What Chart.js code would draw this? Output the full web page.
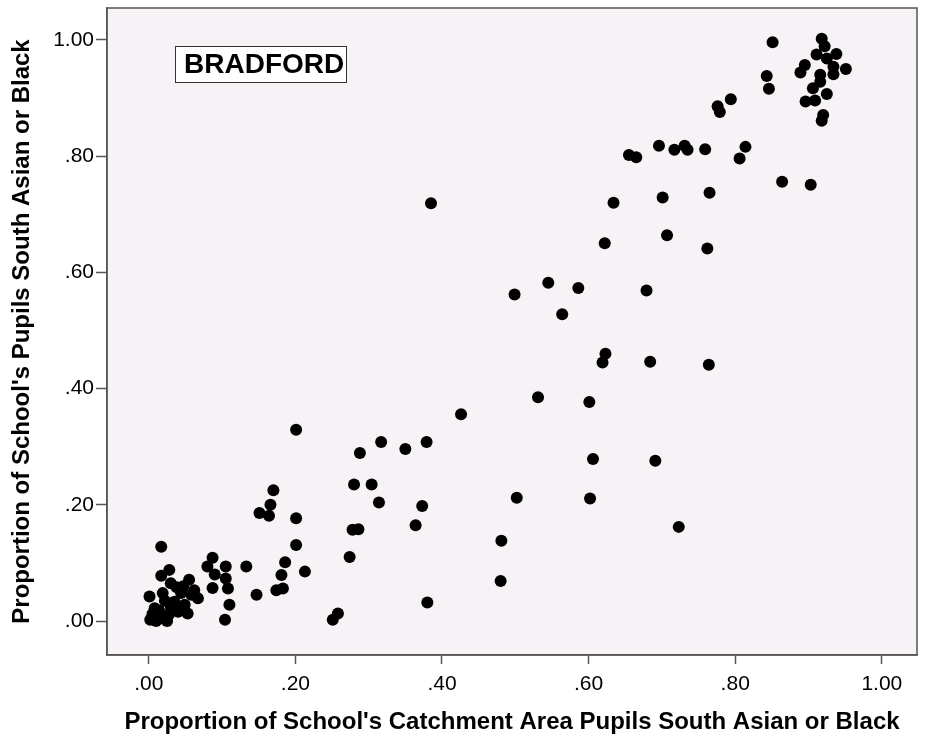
<!DOCTYPE html>
<html>
<head>
<meta charset="utf-8">
<script src="https://cdn.jsdelivr.net/npm/chart.js@4"></script>
<style>
  html, body { margin: 0; padding: 0; background: #fff; }
  #wrap { width: 927px; height: 742px; }
</style>
</head>
<body>
<div id="wrap"><canvas id="bradfordChart" width="927" height="742"></canvas></div>
<script>
// Proportion of catchment-area pupils South Asian or Black (x)
const catchmentShare = [
  0.017, 0.087, 0.080, 0.105, 0.090, 0.105, 0.087, 0.108, 0.110, 0.104,
  0.028, 0.017, 0.055, 0.030, 0.001, 0.019, 0.044, 0.067, 0.062, 0.049,
  0.053, 0.035, 0.040, 0.002, 0.010, 0.020, 0.028, 0.005, 0.025, 0.014,
  0.045, 0.058, 0.038, 0.012, 0.030, 0.022, 0.008, 0.047,
  0.133, 0.147, 0.174, 0.183, 0.181, 0.186, 0.201, 0.213, 0.201, 0.170,
  0.166, 0.151, 0.164, 0.201, 0.251, 0.258, 0.288, 0.317, 0.350, 0.379,
  0.426, 0.280, 0.304, 0.314, 0.373, 0.278, 0.286, 0.364, 0.274, 0.380,
  0.481, 0.480, 0.385,
  0.499, 0.545, 0.586, 0.564, 0.679, 0.623, 0.619, 0.684, 0.764, 0.531,
  0.601, 0.606, 0.691, 0.502, 0.602, 0.723, 0.655, 0.665, 0.696, 0.717,
  0.731, 0.735, 0.759, 0.814, 0.806, 0.634, 0.701, 0.765, 0.622, 0.707,
  0.762,
  0.776, 0.779, 0.794, 0.843, 0.846, 0.864, 0.903, 0.851, 0.918, 0.922,
  0.911, 0.938, 0.925, 0.934, 0.934, 0.951, 0.895, 0.889, 0.916, 0.916,
  0.906, 0.925, 0.896, 0.909, 0.920, 0.918
];

// Proportion of school's pupils South Asian or Black (y)
const schoolShare = [
  0.128, 0.109, 0.094, 0.094, 0.080, 0.073, 0.057, 0.056, 0.028, 0.002,
  0.088, 0.078, 0.071, 0.065, 0.042, 0.048, 0.048, 0.039, 0.053, 0.028,
  0.013, 0.033, 0.016, 0.002, 0.000, 0.004, 0.012, 0.012, 0.000, 0.018,
  0.022, 0.045, 0.058, 0.008, 0.025, 0.035, 0.022, 0.060,
  0.094, 0.045, 0.053, 0.056, 0.079, 0.101, 0.131, 0.085, 0.329, 0.225,
  0.200, 0.186, 0.181, 0.177, 0.002, 0.013, 0.289, 0.308, 0.296, 0.308,
  0.356, 0.235, 0.235, 0.204, 0.198, 0.157, 0.158, 0.165, 0.110, 0.032,
  0.138, 0.069, 0.719,
  0.562, 0.582, 0.573, 0.528, 0.569, 0.460, 0.445, 0.446, 0.441, 0.385,
  0.377, 0.279, 0.276, 0.212, 0.211, 0.162, 0.802, 0.798, 0.818, 0.811,
  0.818, 0.811, 0.812, 0.816, 0.796, 0.720, 0.729, 0.737, 0.650, 0.664,
  0.641,
  0.886, 0.876, 0.898, 0.938, 0.916, 0.756, 0.751, 0.996, 1.002, 0.989,
  0.975, 0.976, 0.968, 0.954, 0.941, 0.950, 0.957, 0.944, 0.940, 0.928,
  0.917, 0.907, 0.894, 0.896, 0.871, 0.861
];

const tickValues = [0, 0.2, 0.4, 0.6, 0.8, 1.0];
const tickLabels = ['.00', '.20', '.40', '.60', '.80', '1.00'];
const cityLabel = 'BRADFORD';

const points = catchmentShare.map((x, i) => ({ x: x, y: schoolShare[i] }));

const FONT = "'Liberation Sans', Arial, sans-serif";
const frameColor = '#555555';

// light plot background + frame round the chart area
const plotFrame = {
  id: 'plotFrame',
  beforeDraw(chart) {
    const { ctx, chartArea: a } = chart;
    ctx.save();
    ctx.fillStyle = '#f6f2f6';
    ctx.fillRect(a.left, a.top, a.right - a.left, a.bottom - a.top);
    ctx.restore();
  },
  afterDraw(chart) {
    const { ctx, chartArea: a } = chart;
    ctx.save();
    ctx.strokeStyle = frameColor;
    ctx.lineWidth = 1.5;
    ctx.strokeRect(a.left, a.top, a.right - a.left, a.bottom - a.top);
    // city label box
    ctx.font = 'bold 28px ' + FONT;
    const bx = a.left + 68, by = a.top + 38, bw = 171, bh = 36;
    ctx.fillStyle = '#ffffff';
    ctx.fillRect(bx, by, bw, bh);
    ctx.lineWidth = 1;
    ctx.strokeStyle = '#333';
    ctx.strokeRect(bx + 0.5, by + 0.5, bw, bh);
    ctx.fillStyle = '#000';
    ctx.textBaseline = 'middle';
    ctx.fillText(cityLabel, bx + 9, by + bh / 2 + 1);
    ctx.restore();
  }
};

function fixedTicks(scale) {
  scale.ticks = tickValues.map(v => ({ value: v }));
}

const tickText = (v) => tickLabels[tickValues.findIndex(t => Math.abs(t - v) < 1e-6)];

const ctx = document.getElementById('bradfordChart').getContext('2d');
new Chart(ctx, {
  type: 'scatter',
  data: {
    datasets: [{
      data: points,
      backgroundColor: '#000000',
      borderWidth: 0,
      pointRadius: 6,
      pointHoverRadius: 6
    }]
  },
  options: {
    responsive: false,
    animation: false,
    layout: { padding: { top: 8, right: 10, left: 0, bottom: 0 } },
    plugins: {
      legend: { display: false },
      tooltip: { enabled: false }
    },
    scales: {
      x: {
        type: 'linear',
        min: -0.057,
        max: 1.048,
        afterBuildTicks: fixedTicks,
        afterFit(scale) {
          scale.height = 87;
          scale.paddingLeft = 0;
          scale.paddingRight = 0;
        },
        grid: { drawOnChartArea: false, color: frameColor, tickLength: 9, tickWidth: 1.5 },
        border: { color: frameColor, width: 1.5 },
        ticks: {
          color: '#000',
          font: { family: FONT, size: 21 },
          padding: 8,
          maxRotation: 0,
          callback: tickText
        },
        title: {
          display: true,
          text: "Proportion of School's Catchment Area Pupils South Asian or Black",
          color: '#000',
          font: { family: FONT, size: 24, weight: 'bold' },
          padding: { top: 0, bottom: 5 }
        }
      },
      y: {
        type: 'linear',
        min: -0.0585,
        max: 1.055,
        afterBuildTicks: fixedTicks,
        afterFit(scale) {
          scale.width = 107;
          scale.paddingTop = 0;
          scale.paddingBottom = 0;
        },
        grid: { drawOnChartArea: false, color: frameColor, tickLength: 11, tickWidth: 1.5 },
        border: { color: frameColor, width: 1.5 },
        ticks: {
          color: '#000',
          font: { family: FONT, size: 21 },
          padding: 2,
          callback: tickText
        },
        title: {
          display: true,
          text: "Proportion of School's Pupils South Asian or Black",
          color: '#000',
          font: { family: FONT, size: 24, weight: 'bold' },
          padding: { top: 8, bottom: 0 }
        }
      }
    }
  },
  plugins: [plotFrame]
});
</script>
</body>
</html>
